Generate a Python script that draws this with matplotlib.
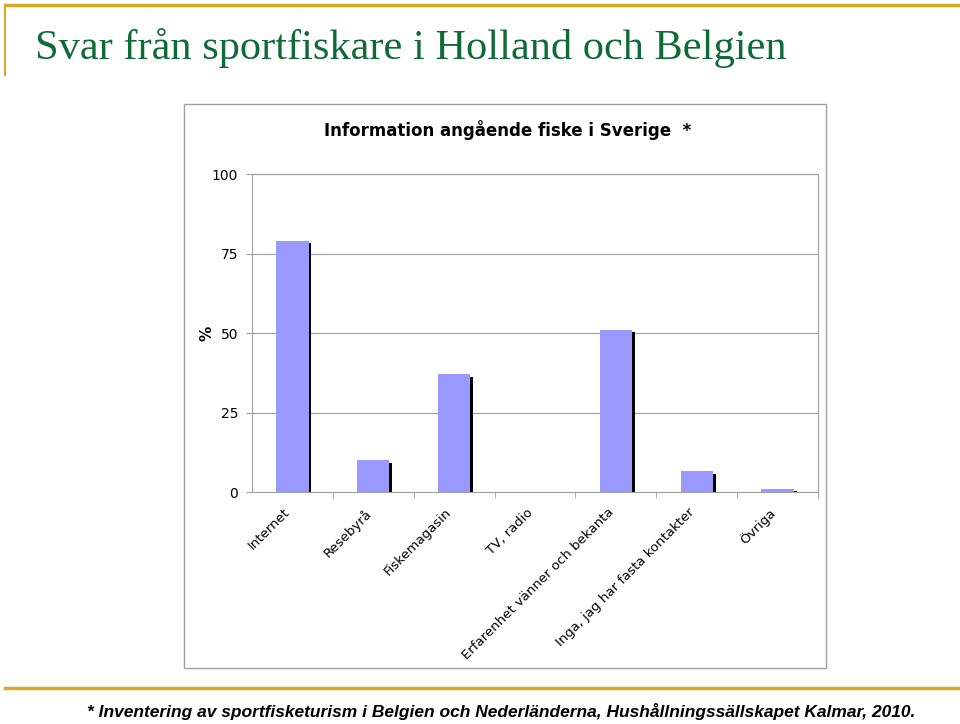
import matplotlib.pyplot as plt
from matplotlib.patches import Rectangle
from matplotlib.lines import Line2D
from matplotlib import transforms
import numpy as np

categories = ["Internet", "Resebyrå", "Fiskemagasin", "TV, radio",
              "Erfarenhet vänner och bekanta", "Inga, jag har fasta kontakter", "Övriga"]
values = [79, 10, 37, 0, 51, 6.5, 1]
yticks = [0, 25, 50, 75, 100]

gold = "#D4A92C"
green = "#0E6A36"
bar_color = "#9999FF"

fig = plt.figure(figsize=(9.6, 7.24), dpi=100)

# slide decorations
fig.add_artist(Line2D([5 / 960, 1], [1 - 5 / 724, 1 - 5 / 724], color=gold, lw=2.5))
fig.add_artist(Line2D([5 / 960, 5 / 960], [1 - 5 / 724, 1 - 75 / 724], color=gold, lw=1.5))
fig.add_artist(Line2D([5 / 960, 1], [1 - 688 / 724, 1 - 688 / 724], color=gold, lw=2.5))
fig.text(35 / 960, 1 - 48 / 724, "Svar från sportfiskare i Holland och Belgien",
         family="Liberation Serif", fontsize=30.5, color=green, va="center", ha="left")
fig.text(501 / 960, 1 - 712 / 724,
         "* Inventering av sportfisketurism i Belgien och Nederländerna, Hushållningssällskapet Kalmar, 2010.",
         family="Liberation Sans", style="italic", weight="bold",
         fontsize=12.5, ha="center", va="center")

# chart frame
fig.add_artist(Rectangle((184 / 960, 1 - 668 / 724), (826 - 184) / 960, (668 - 104) / 724,
                         transform=fig.transFigure, fill=False, ec="#A0A0A0", lw=1))
fig.text(508 / 960, 1 - 130 / 724, "Information angående fiske i Sverige  *",
         family="DejaVu Sans", fontsize=12, weight="bold", ha="center", va="center")

ax = fig.add_axes([252 / 960, 1 - 492 / 724, (818 - 252) / 960, (492 - 174) / 724])
x = np.arange(len(categories))
w = 0.4
ax.bar(x + 0.035, np.array(values) - 0.8, width=w, bottom=0, color="black", zorder=2)
ax.bar(x, values, width=w, color=bar_color, zorder=3)

ax.set_xlim(-0.5, len(categories) - 0.5)
ax.set_ylim(0, 100)
ax.set_yticks(yticks)
ax.yaxis.grid(True, color="#A0A0A0", lw=0.8)
ax.set_axisbelow(True)
for s in ax.spines.values():
    s.set_color("#A0A0A0")
    s.set_linewidth(0.8)

ax.set_xticks(x)
ax.set_xticklabels(categories, rotation=45, ha="right", rotation_mode="anchor",
                   family="DejaVu Sans", fontsize=9.5)
ax.tick_params(axis="x", length=0, pad=10)
shift = transforms.ScaledTranslation(-9 / 100, 0, fig.dpi_scale_trans)
for lab in ax.get_xticklabels():
    lab.set_transform(lab.get_transform() + shift)
ax.set_xticks(np.arange(len(categories)) + 0.5, minor=True)
ax.tick_params(axis="x", which="minor", length=4, color="#A0A0A0")
ax.tick_params(axis="y", length=4, color="#A0A0A0", labelsize=10, pad=6)
ax.set_ylabel("%", fontsize=11, weight="bold", labelpad=-2)

fig.savefig("out.png", dpi=100)
